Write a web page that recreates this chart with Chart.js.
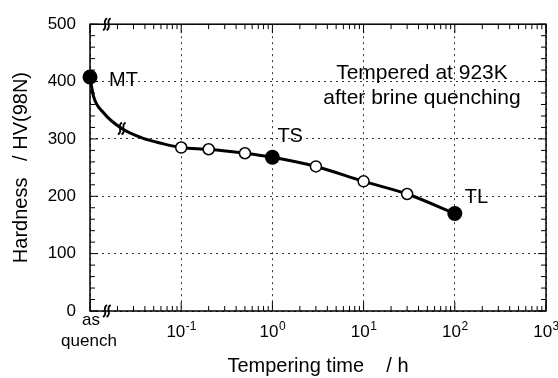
<!DOCTYPE html>
<html><head><meta charset="utf-8">
<script src="https://cdn.jsdelivr.net/npm/chart.js@4.4.1/dist/chart.umd.min.js"></script>
<style>html,body{margin:0;padding:0;background:#fff;}#wrap{width:558px;height:378px;}</style>
</head><body><div id="wrap"><canvas id="c" width="558" height="378"></canvas></div>
<script>
// ---- data ----
const curveTime     = [0.01, 0.0109, 0.014, 0.0223, 0.0384, 0.0585, 0.1, 0.2, 0.5, 1, 3, 10, 30, 100];
const curveHardness = [408, 375, 346, 318, 301, 293, 285, 282, 275, 268, 252, 226, 204, 170];
const openTime      = [0.1, 0.2, 0.5, 3, 10, 30];
const openHardness  = [285, 282, 275, 252, 226, 204];
const filledTime     = [0.01, 1, 100];
const filledHardness = [408, 268, 170];
const filledLabels   = ['MT', 'TS', 'TL'];
const decadeValues    = [0.1, 1, 10, 100, 1000];
const decadeExponents = ['-1', '0', '1', '2', '3'];
const asQuenchTime  = 0.01;
const asQuenchLines = ['as', 'quench'];
const axisBreakTime = 0.0153;
const curveBreakIndex = 3;
const noteLines = ['Tempered at 923K', 'after brine quenching'];
const xTitle = 'Tempering time    / h';
const yTitle = 'Hardness   / HV(98N)';
const yMin = 0, yMax = 500, yStep = 100, yMinorStep = 20;
const xMin = 0.01, xMax = 1000;

const FONT = "'Liberation Sans', Arial, Helvetica, sans-serif";
const isDecade = v => Math.abs(Math.log10(v) - Math.round(Math.log10(v))) < 1e-6;

function squiggle(ctx, cx, cy) {
  ctx.save();
  ctx.strokeStyle = '#000'; ctx.lineWidth = 1.8; ctx.setLineDash([]);
  for (const dx of [-1.8, 1.8]) {
    ctx.beginPath();
    ctx.moveTo(cx + dx + 2, cy - 6);
    ctx.bezierCurveTo(cx + dx - 4, cy - 2, cx + dx + 4, cy + 2, cx + dx - 2, cy + 6);
    ctx.stroke();
  }
  ctx.restore();
}

const decor = {
  id: 'decor',
  beforeDatasetsDraw(chart) {
    const {ctx, chartArea: a, scales: {x, y}} = chart;
    ctx.save();
    ctx.setLineDash([]);
    ctx.strokeStyle = '#000';
    ctx.lineWidth = 1.5;
    ctx.strokeRect(a.left, a.top, a.right - a.left, a.bottom - a.top);
    ctx.lineWidth = 1;
    const seg = (x1, y1, x2, y2) => { ctx.beginPath(); ctx.moveTo(x1, y1); ctx.lineTo(x2, y2); ctx.stroke(); };
    for (let d = -2; d <= 3; d++) {
      for (let m = 1; m <= 9; m++) {
        const v = m * Math.pow(10, d);
        if (v < xMin * 0.999 || v > xMax * 1.001) continue;
        const px = x.getPixelForValue(v);
        const len = m === 1 ? 9 : 5;
        seg(px, a.bottom, px, a.bottom - len);
        seg(px, a.top, px, a.top + len);
      }
    }
    for (let v = yMin; v <= yMax; v += yMinorStep) {
      const py = y.getPixelForValue(v);
      const len = v % yStep === 0 ? 8 : 5;
      seg(a.left, py, a.left + len, py);
      seg(a.right, py, a.right - len, py);
    }
    const bx = x.getPixelForValue(axisBreakTime);
    squiggle(ctx, bx, a.top);
    squiggle(ctx, bx, a.bottom);
    // x tick labels
    ctx.fillStyle = '#000';
    ctx.textBaseline = 'alphabetic';
    decadeValues.forEach((v, i) => {
      const px = x.getPixelForValue(v);
      ctx.font = `17px ${FONT}`;
      const w1 = ctx.measureText('10').width;
      ctx.font = `12px ${FONT}`;
      const w2 = ctx.measureText(decadeExponents[i]).width;
      const start = px - (w1 + w2) / 2;
      ctx.textAlign = 'left';
      ctx.font = `17px ${FONT}`;
      ctx.fillText('10', start, a.bottom + 26);
      ctx.font = `12px ${FONT}`;
      ctx.fillText(decadeExponents[i], start + w1 + 0.5, a.bottom + 19);
    });
    const qx = x.getPixelForValue(asQuenchTime);
    ctx.font = `17px ${FONT}`;
    ctx.textAlign = 'center';
    ctx.fillText(asQuenchLines[0], qx + 1, a.bottom + 14);
    ctx.fillText(asQuenchLines[1], qx - 1, a.bottom + 35);
    ctx.restore();
  },
  afterDatasetsDraw(chart) {
    const {ctx, chartArea: a, scales: {x, y}} = chart;
    ctx.save();
    const cp = chart.getDatasetMeta(2).data[curveBreakIndex];
    squiggle(ctx, cp.x, cp.y);
    ctx.fillStyle = '#000';
    ctx.font = `20px ${FONT}`;
    ctx.textAlign = 'left';
    ctx.textBaseline = 'alphabetic';
    const offs = [[19, 9], [5, -15], [10, -10]];
    const pts = chart.getDatasetMeta(0).data;
    filledLabels.forEach((t, i) => {
      ctx.fillText(t, pts[i].x + offs[i][0], pts[i].y + offs[i][1]);
    });
    ctx.textAlign = 'center';
    ctx.font = `21px ${FONT}`;
    const nx = a.left + (a.right - a.left) * 0.728;
    ctx.fillText(noteLines[0], nx, a.top + 55);
    ctx.fillText(noteLines[1], nx, a.top + 80);
    ctx.restore();
  }
};

const toXY = (xs, ys) => xs.map((v, i) => ({x: v, y: ys[i]}));

new Chart(document.getElementById('c'), {
  type: 'line',
  data: {
    datasets: [
      {label: 'filled', data: toXY(filledTime, filledHardness), showLine: false,
       pointRadius: 7.5, pointBackgroundColor: '#000', pointBorderColor: '#000', pointBorderWidth: 0,
       clip: false, order: 0},
      {label: 'open', data: toXY(openTime, openHardness), showLine: false,
       pointRadius: 5.5, pointBackgroundColor: '#fff', pointBorderColor: '#000', pointBorderWidth: 1.5,
       clip: false, order: 1},
      {label: 'curve', data: toXY(curveTime, curveHardness), borderColor: '#000', borderWidth: 3,
       pointRadius: 0, cubicInterpolationMode: 'monotone', fill: false, clip: false, order: 2}
    ]
  },
  options: {
    responsive: false, animation: false, devicePixelRatio: 1,
    layout: {padding: {top: 16, right: 12, left: 0, bottom: 0}},
    plugins: {legend: {display: false}, tooltip: {enabled: false}},
    scales: {
      x: {type: 'logarithmic', min: xMin, max: xMax, position: 'bottom',
          ticks: {display: false},
          grid: {color: c => (c.tick && isDecade(c.tick.value)) ? '#333' : 'rgba(0,0,0,0)', lineWidth: 1, drawTicks: false},
          border: {display: false, dash: [2, 4]},
          title: {display: true, text: xTitle, color: '#000', font: {family: FONT, size: 20}, padding: {top: 0, bottom: 0}},
          afterFit: s => { s.height = 67; }},
      y: {min: yMin, max: yMax,
          ticks: {stepSize: yStep, color: '#000', font: {family: FONT, size: 17}, padding: 14},
          grid: {color: '#333', lineWidth: 1, drawTicks: false},
          border: {display: false, dash: [2, 4]},
          title: {display: true, text: yTitle, color: '#000', font: {family: FONT, size: 20}, padding: {top: 9, bottom: 0}},
          afterFit: s => { s.width = 90; }}
    }
  },
  plugins: [decor]
});
</script></body></html>
